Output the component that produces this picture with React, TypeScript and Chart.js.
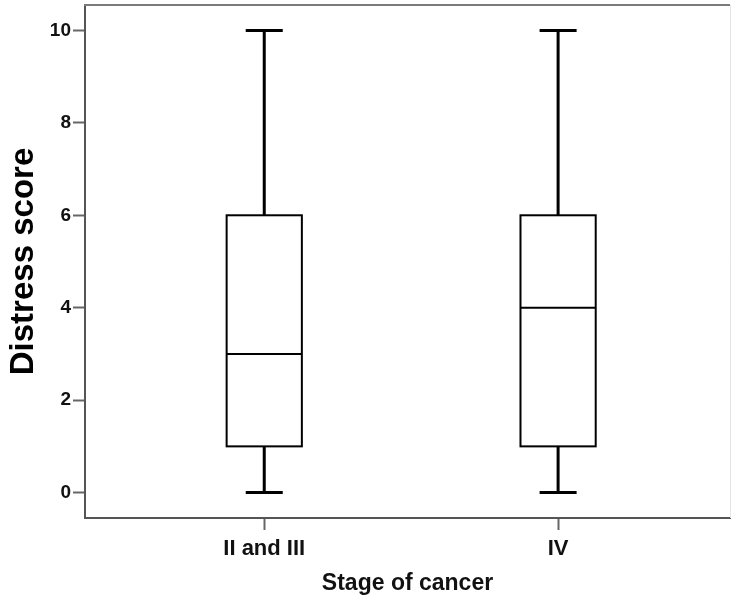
import React, { useEffect, useRef } from "react";
import { Chart, registerables } from "chart.js";

Chart.register(...registerables);

// Distress score by cancer stage (box-and-whisker summary)
const categories: string[] = ["II and III", "IV"];
const minimums: number[] = [0, 0];
const lowerQuartiles: number[] = [1, 1];
const medians: number[] = [3, 4];
const upperQuartiles: number[] = [6, 6];
const maximums: number[] = [10, 10];
const yTickValues: number[] = [0, 2, 4, 6, 8, 10];

const FONT = "'Liberation Sans', Arial, Helvetica, sans-serif";
const BOX_HALF = 0.128; // half box width, in x-axis units
const CAP_HALF = 0.063; // half whisker-cap width, in x-axis units

const boxPlotPlugin = {
  id: "boxPlot",
  afterDatasetsDraw(chart: any) {
    const { ctx, chartArea, scales } = chart;
    const xs = scales.x;
    const ys = scales.y;
    ctx.save();

    // frame: top and right edges of the plot area
    ctx.strokeStyle = "#7a7a7a";
    ctx.lineWidth = 2;
    ctx.beginPath();
    ctx.moveTo(chartArea.left - 1, chartArea.top);
    ctx.lineTo(chartArea.right, chartArea.top);
    ctx.stroke();
    ctx.strokeStyle = "#e4e4e4";
    ctx.lineWidth = 1;
    ctx.beginPath();
    ctx.moveTo(chartArea.right + 0.5, chartArea.top);
    ctx.lineTo(chartArea.right + 0.5, chartArea.bottom);
    ctx.stroke();

    categories.forEach((_, i) => {
      const pos = i + 1;
      const xc = xs.getPixelForValue(pos);
      const xl = xs.getPixelForValue(pos - BOX_HALF);
      const xr = xs.getPixelForValue(pos + BOX_HALF);
      const cl = xs.getPixelForValue(pos - CAP_HALF);
      const cr = xs.getPixelForValue(pos + CAP_HALF);
      const yMin = ys.getPixelForValue(minimums[i]);
      const yQ1 = ys.getPixelForValue(lowerQuartiles[i]);
      const yMed = ys.getPixelForValue(medians[i]);
      const yQ3 = ys.getPixelForValue(upperQuartiles[i]);
      const yMax = ys.getPixelForValue(maximums[i]);

      ctx.strokeStyle = "#000";
      // whiskers and caps
      ctx.lineWidth = 3;
      ctx.beginPath();
      ctx.moveTo(xc, yQ3);
      ctx.lineTo(xc, yMax);
      ctx.moveTo(cl, yMax);
      ctx.lineTo(cr, yMax);
      ctx.moveTo(xc, yQ1);
      ctx.lineTo(xc, yMin);
      ctx.moveTo(cl, yMin);
      ctx.lineTo(cr, yMin);
      ctx.stroke();

      // box
      ctx.lineWidth = 2;
      ctx.fillStyle = "#fff";
      ctx.fillRect(xl, yQ3, xr - xl, yQ1 - yQ3);
      ctx.strokeRect(xl, yQ3, xr - xl, yQ1 - yQ3);

      // median
      ctx.beginPath();
      ctx.moveTo(xl, yMed);
      ctx.lineTo(xr, yMed);
      ctx.stroke();
    });
    ctx.restore();
  },
};

export default function App() {
  const canvasRef = useRef<HTMLCanvasElement | null>(null);

  useEffect(() => {
    const canvas = canvasRef.current;
    if (!canvas) return;
    const chart = new Chart(canvas, {
      type: "scatter",
      data: {
        datasets: [
          {
            label: "Median",
            data: medians.map((m, i) => ({ x: i + 1, y: m })),
            pointRadius: 0,
            showLine: false,
          },
        ],
      },
      options: {
        animation: false,
        responsive: false,
        devicePixelRatio: 1,
        layout: { padding: { top: 5, right: 5, left: 0, bottom: 0 } },
        plugins: {
          legend: { display: false },
          tooltip: { enabled: false },
        },
        scales: {
          x: {
            type: "linear",
            min: 0.39,
            max: 2.585,
            afterBuildTicks: (scale: any) => {
              scale.ticks = categories.map((_, i) => ({ value: i + 1 }));
            },
            afterFit: (scale: any) => {
              scale.height = 82;
              scale.paddingLeft = 0;
              scale.paddingRight = 0;
            },
            ticks: {
              callback: (v: any) => categories[Number(v) - 1] ?? "",
              color: "#111",
              font: { family: FONT, size: 22, weight: "bold" },
              padding: 6,
              maxRotation: 0,
              autoSkip: false,
            },
            grid: {
              drawOnChartArea: false,
              drawTicks: true,
              tickLength: 12,
              tickColor: "#666",
              tickWidth: 2,
            },
            border: { display: true, color: "#555", width: 2 },
            title: {
              display: true,
              text: "Stage of cancer",
              color: "#111",
              font: { family: FONT, size: 23, weight: "bold" },
              padding: { top: 0, bottom: 3 },
            },
          },
          y: {
            type: "linear",
            min: -0.55,
            max: 10.55,
            afterBuildTicks: (scale: any) => {
              scale.ticks = yTickValues.map((v) => ({ value: v }));
            },
            afterFit: (scale: any) => {
              scale.width = 85;
              scale.paddingTop = 0;
              scale.paddingBottom = 0;
            },
            ticks: {
              color: "#111",
              font: { family: FONT, size: 19, weight: "bold" },
              padding: 2,
            },
            grid: {
              drawOnChartArea: false,
              drawTicks: true,
              tickLength: 12,
              tickColor: "#666",
              tickWidth: 2,
            },
            border: { display: true, color: "#555", width: 2 },
            title: {
              display: true,
              text: "Distress score",
              color: "#000",
              font: { family: FONT, size: 33, weight: "bold" },
              padding: { top: 4, bottom: 0 },
            },
          },
        },
      },
      plugins: [boxPlotPlugin],
    } as any);
    return () => chart.destroy();
  }, []);

  return (
    <div style={{ position: "absolute", left: 0, top: 0, width: 735, height: 600, background: "#fff" }}>
      <canvas ref={canvasRef} width={735} height={600} />
    </div>
  );
}
